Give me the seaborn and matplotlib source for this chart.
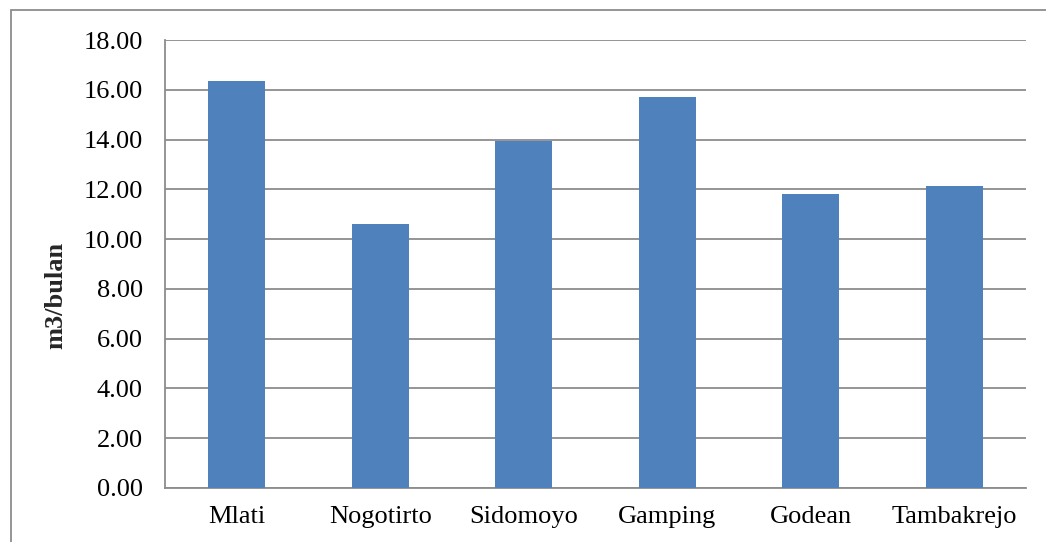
import matplotlib
matplotlib.use("Agg")
import matplotlib.pyplot as plt
import seaborn as sns
import pandas as pd
from matplotlib.patches import Rectangle

# data
lokasi = ["Mlati", "Nogotirto", "Sidomoyo", "Gamping", "Godean", "Tambakrejo"]
nilai = [16.35, 10.62, 13.95, 15.70, 11.80, 12.13]
y_ticks = [0, 2, 4, 6, 8, 10, 12, 14, 16, 18]

df = pd.DataFrame({"Lokasi": lokasi, "Nilai": nilai})

sns.set_theme(style="white")
plt.rcParams["font.family"] = ["Liberation Serif", "DejaVu Serif"]

fig = plt.figure(figsize=(10.46, 5.42), dpi=100)
ax = fig.add_axes([165 / 1046, 1 - 488 / 542, 861 / 1046, 448 / 542])

sns.barplot(data=df, x="Lokasi", y="Nilai", color="#4F81BD", saturation=1,
            width=0.4, linewidth=0, ax=ax, zorder=3)

ax.set_ylim(0, 18)
ax.set_xlim(-0.5, len(lokasi) - 0.5)
ax.set_yticks(y_ticks)
ax.set_yticklabels([f"{v:.2f}" for v in y_ticks])
ax.yaxis.grid(True, color="#8c8c8c", linewidth=1.3, zorder=0)
ax.set_axisbelow(True)

for s in ["top", "right"]:
    ax.spines[s].set_visible(False)
for s in ["left", "bottom"]:
    ax.spines[s].set_color("#8c8c8c")
    ax.spines[s].set_linewidth(1.3)

ax.tick_params(axis="both", length=0, labelsize=19, colors="black")
ax.tick_params(axis="y", pad=16)
ax.tick_params(axis="x", pad=13)
ax.set_xlabel("")
ax.set_ylabel("m3/bulan", fontsize=19, fontweight="bold")
ax.yaxis.set_label_coords(-0.127, 0.43)
ax.yaxis.label.set_va("center")

# outer chart border
fig.patches.append(Rectangle((11 / 1046, -0.1), 1.2, 1 - 10 / 542 + 0.1,
                             transform=fig.transFigure, fill=False,
                             edgecolor="#8c8c8c", linewidth=1.3))

fig.savefig("out.png", dpi=100)
